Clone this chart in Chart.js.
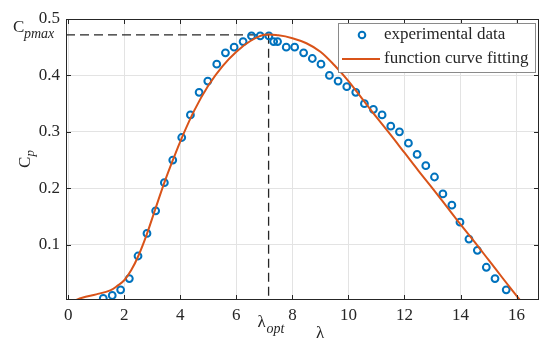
<!DOCTYPE html>
<html>
<head>
<meta charset="utf-8">
<script src="https://cdn.jsdelivr.net/npm/chart.js@4.4.1/dist/chart.umd.min.js"></script>
<style>
  html, body { margin: 0; padding: 0; background: #fff; }
</style>
</head>
<body>
<canvas id="cpChart" width="550" height="342"></canvas>
<script>
// measured points (tip speed ratio vs power coefficient)
const expLambda = [1.25, 1.57, 1.87, 2.18, 2.49, 2.81, 3.12, 3.43, 3.73, 4.05, 4.36, 4.67,
  4.98, 5.30, 5.61, 5.92, 6.24, 6.54, 6.85, 7.16, 7.33, 7.47, 7.78, 8.08, 8.40, 8.71, 9.02,
  9.32, 9.63, 9.94, 10.26, 10.57, 10.89, 11.20, 11.51, 11.82, 12.14, 12.45, 12.76, 13.07,
  13.37, 13.69, 13.98, 14.30, 14.60, 14.92, 15.23, 15.63];
const expCp = [0.005, 0.01, 0.02, 0.04, 0.08, 0.12, 0.16, 0.21, 0.25, 0.29, 0.33, 0.37,
  0.39, 0.42, 0.44, 0.45, 0.46, 0.47, 0.47, 0.47, 0.46, 0.46, 0.45, 0.45, 0.44, 0.43, 0.42,
  0.40, 0.39, 0.38, 0.37, 0.35, 0.34, 0.33, 0.31, 0.30, 0.28, 0.26, 0.24, 0.22,
  0.19, 0.17, 0.14, 0.11, 0.09, 0.06, 0.04, 0.02];

// fitted curve
const fitLambda = [0.18, 0.5, 1.0, 1.5, 1.75, 2.0, 2.25, 2.5, 2.8, 3.1, 3.43, 3.75, 4.05,
  4.5, 5.0, 5.5, 6.0, 6.5, 7.0, 7.5, 8.0, 8.5, 9.0, 9.5, 10.0, 10.5, 11.0, 11.5,
  12.0, 12.5, 13.0, 13.5, 14.0, 14.5, 15.0, 15.5, 16.15];
const fitCp = [0.0, 0.006, 0.012, 0.019, 0.027, 0.037, 0.055, 0.08, 0.118, 0.162, 0.21,
  0.252, 0.289, 0.338, 0.382, 0.416, 0.442, 0.461, 0.472, 0.471, 0.466, 0.457,
  0.442, 0.418, 0.39, 0.358, 0.326, 0.295, 0.263, 0.231, 0.2, 0.168, 0.136, 0.105,
  0.073, 0.041, 0.0];

const xTicks = [0, 2, 4, 6, 8, 10, 12, 14, 16];
const yTicks = [0.1, 0.2, 0.3, 0.4, 0.5];
const lambdaOpt = 7.15;
const cpMax = 0.472;
const xMin = -0.08, xMax = 16.8;
const yMin = 0.002, yMax = 0.5;

const blue = '#0072BD';
const orange = '#D95319';
const dark = '#262626';
const serif = '"Liberation Serif", "Times New Roman", serif';

const toPoints = (xs, ys) => xs.map((v, i) => ({ x: v, y: ys[i] }));

const decor = {
  id: 'decor',
  afterDatasetsDraw(chart) {
    const ctx = chart.ctx;
    const a = chart.chartArea;
    const x = chart.scales.x, y = chart.scales.y;
    ctx.save();

    // box and inward ticks
    ctx.strokeStyle = dark;
    ctx.lineWidth = 1;
    ctx.strokeRect(a.left + 0.5, a.top + 0.5, a.right - a.left - 1, a.bottom - a.top - 1);
    ctx.beginPath();
    x.ticks.forEach(t => {
      const p = Math.round(x.getPixelForValue(t.value)) + 0.5;
      ctx.moveTo(p, a.bottom); ctx.lineTo(p, a.bottom - 5);
      ctx.moveTo(p, a.top); ctx.lineTo(p, a.top + 5);
    });
    y.ticks.forEach(t => {
      const p = Math.round(y.getPixelForValue(t.value)) + 0.5;
      ctx.moveTo(a.left, p); ctx.lineTo(a.left + 5, p);
      ctx.moveTo(a.right, p); ctx.lineTo(a.right - 5, p);
    });
    ctx.stroke();

    // legend box
    const lx = a.right - 201, ly = a.top + 4;
    ctx.fillStyle = '#fff';
    ctx.fillRect(lx, ly, 197, 49);
    ctx.strokeStyle = '#8a8a8a';
    ctx.strokeRect(lx + 0.5, ly + 0.5, 197, 49);
    ctx.strokeStyle = blue;
    ctx.lineWidth = 2;
    ctx.beginPath();
    ctx.arc(lx + 24, ly + 12, 3.3, 0, Math.PI * 2);
    ctx.stroke();
    ctx.strokeStyle = orange;
    ctx.beginPath();
    ctx.moveTo(lx + 4, ly + 36); ctx.lineTo(lx + 42, ly + 36);
    ctx.stroke();
    ctx.fillStyle = dark;
    ctx.font = '17px ' + serif;
    ctx.textBaseline = 'middle';
    ctx.fillText('experimental data', lx + 46, ly + 12);
    ctx.fillText('function curve fitting', lx + 46, ly + 36);

    // C_pmax next to the y axis
    ctx.textBaseline = 'alphabetic';
    const cy = y.getPixelForValue(cpMax);
    ctx.font = '17px ' + serif;
    ctx.fillText('C', 13, cy - 3);
    ctx.font = 'italic 14px ' + serif;
    ctx.fillText('pmax', 24, cy + 3.5);

    // lambda_opt under the x axis
    const ox = x.getPixelForValue(lambdaOpt);
    ctx.font = '17px ' + serif;
    ctx.fillText('\u03bb', ox - 11, a.bottom + 27);
    ctx.font = 'italic 14px ' + serif;
    ctx.fillText('opt', ox - 2, a.bottom + 33);

    // axis titles
    ctx.font = '17px ' + serif;
    ctx.textAlign = 'center';
    ctx.fillText('\u03bb', 320, a.bottom + 38);
    ctx.textAlign = 'left';
    ctx.save();
    ctx.translate(30, 168);
    ctx.rotate(-Math.PI / 2);
    ctx.fillText('C', 0, 0);
    ctx.font = 'italic 13px ' + serif;
    ctx.fillText('p', 11.5, 4);
    ctx.restore();

    ctx.restore();
  }
};

Chart.defaults.font.family = serif;
Chart.defaults.font.size = 17;
Chart.defaults.color = dark;

new Chart(document.getElementById('cpChart'), {
  type: 'scatter',
  data: {
    datasets: [
      {
        label: 'experimental data',
        data: toPoints(expLambda, expCp),
        showLine: false,
        pointRadius: 3.4,
        pointBorderWidth: 2,
        pointBorderColor: blue,
        pointBackgroundColor: 'rgba(0,0,0,0)',
        order: 1
      },
      {
        label: 'function curve fitting',
        data: toPoints(fitLambda, fitCp),
        showLine: true,
        pointRadius: 0,
        borderColor: orange,
        borderWidth: 2,
        tension: 0.35,
        order: 0
      },
      {
        label: 'cpmax',
        data: toPoints([xMin, lambdaOpt], [cpMax, cpMax]),
        showLine: true,
        pointRadius: 0,
        borderColor: dark,
        borderWidth: 1.3,
        borderDash: [9, 5],
        order: 2
      },
      {
        label: 'lopt',
        data: toPoints([lambdaOpt, lambdaOpt], [cpMax, yMin]),
        showLine: true,
        pointRadius: 0,
        borderColor: dark,
        borderWidth: 1.3,
        borderDash: [9, 5],
        order: 2
      }
    ]
  },
  options: {
    responsive: false,
    animation: false,
    events: [],
    layout: { padding: { top: 19, right: 11, left: 0, bottom: 0 } },
    plugins: { legend: { display: false }, tooltip: { enabled: false } },
    scales: {
      x: {
        type: 'linear',
        min: xMin,
        max: xMax,
        afterBuildTicks: s => { s.ticks = xTicks.map(v => ({ value: v })); },
        afterFit: s => { s.height = 42; },
        grid: { color: '#e3e3e3', drawTicks: false },
        border: { display: false },
        ticks: { padding: 5, callback: v => String(v) }
      },
      y: {
        type: 'linear',
        min: yMin,
        max: yMax,
        afterBuildTicks: s => { s.ticks = yTicks.map(v => ({ value: v })); },
        afterFit: s => { s.width = 66; },
        grid: { color: '#e3e3e3', drawTicks: false },
        border: { display: false },
        ticks: { padding: 6, callback: v => v.toFixed(1) }
      }
    }
  },
  plugins: [decor]
});
</script>
</body>
</html>
